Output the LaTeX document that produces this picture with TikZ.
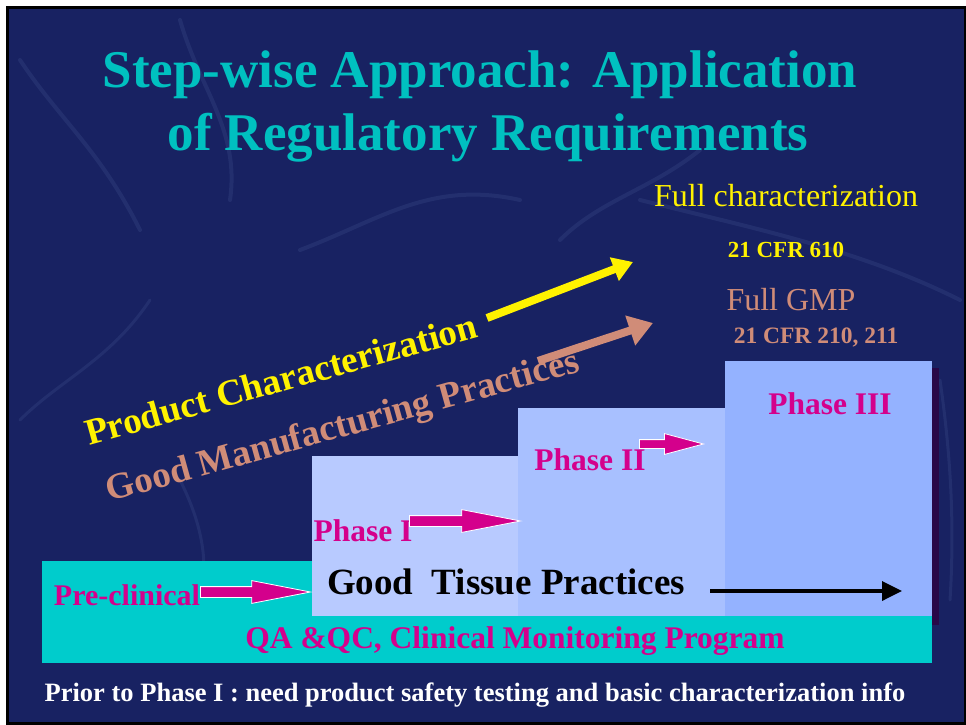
\documentclass[tikz,border=0pt]{standalone}
\usepackage{fontspec}
\setmainfont{Liberation Serif}
\usetikzlibrary{positioning,shapes.arrows,arrows.meta}
\definecolor{navy}{RGB}{24,34,98}
\definecolor{streak}{RGB}{80,100,160}
\definecolor{titleteal}{RGB}{0,192,192}
\definecolor{tan}{RGB}{208,140,120}
\definecolor{magent}{RGB}{212,0,140}
\definecolor{cyanbox}{RGB}{0,204,204}
\definecolor{phaseone}{RGB}{184,202,255}
\definecolor{phasetwo}{RGB}{168,192,255}
\definecolor{phasethree}{RGB}{148,178,255}
\definecolor{shade}{RGB}{40,8,72}
\begin{document}
\begin{tikzpicture}[x=1pt,y=-1pt,
    title/.style={text=titleteal, font=\bfseries\fontsize{53}{60}\selectfont},
    box/.style={anchor=north west, inner sep=0pt, draw=none},
    lbl/.style={text=magent, inner sep=0pt, font=\bfseries\fontsize{31.5}{36}\selectfont},
    blockarrow/.style={single arrow, fill=magent, draw=white, line width=0.8pt, anchor=tail,
      inner xsep=0pt, inner ysep=5pt, single arrow head extend=6pt, single arrow tip angle=22},
    thick arrow/.style={line width=8pt},
    marble/.style={streak, opacity=0.2, line width=4pt, line cap=round}]
    \useasboundingbox (0,0) rectangle (966,725);
    \fill[black] (6,6) rectangle (966,725);
    \fill[navy] (9,9) rectangle (964,722);
    \draw[marble] (20,60) .. controls (60,120) and (100,150) .. (140,230);
    \draw[marble] (180,20) .. controls (200,90) and (240,130) .. (230,200);
    \draw[marble] (300,250) .. controls (380,220) and (430,180) .. (520,200);
    \draw[marble] (560,240) .. controls (600,200) and (650,190) .. (700,150);
    \draw[marble] (640,200) .. controls (760,230) and (860,250) .. (960,300);
    \draw[marble, line width=3pt] (20,420) .. controls (60,380) and (110,360) .. (150,300);
    \draw[marble, line width=3pt] (180,480) .. controls (200,520) and (210,560) .. (200,600);
    \draw[marble, line width=3pt] (940,380) .. controls (950,450) and (955,520) .. (950,600);

    \node (t1) [title] at (480,75) {Step-wise Approach: Application};
    \node (t2) [title] at (488,138) {of Regulatory Requirements};

    \node (full) [text=yellow, font=\fontsize{32}{36}\selectfont] at (786,196) {Full characterization};
    \node (cfr1) [text=yellow, font=\bfseries\fontsize{23}{26}\selectfont] at (786,250) {21 CFR 610};
    \node (gmp) [text=tan, font=\fontsize{32}{36}\selectfont] at (791,300) {Full GMP};
    \node (cfr2) [text=tan, font=\bfseries\fontsize{23.5}{26}\selectfont] at (816,338) {21 CFR 210, 211};

    \node (shadow) [box, fill=shade, minimum width=7pt, minimum height=257pt] at (932,368) {};
    \node (qa) [box, fill=cyanbox, minimum width=890pt, minimum height=47pt] at (42,616) {};
    \node (pre) [box, fill=cyanbox, minimum width=270pt, minimum height=56pt] at (42,561) {};
    \node (p1) [box, fill=phaseone, minimum width=206pt, minimum height=160pt] at (312,456) {};
    \node (p2) [box, fill=phasetwo, minimum width=207pt, minimum height=208pt] at (518,408) {};
    \node (p3) [box, fill=phasethree, minimum width=207pt, minimum height=255pt] at (725,361) {};

    \node (pc) [text=yellow, rotate=15.5, inner sep=0pt, font=\bfseries\fontsize{37}{40}\selectfont] at (281,379) {Product Characterization};
    \node (gm) [text=tan, rotate=15.5, inner sep=0pt, font=\bfseries\fontsize{37}{40}\selectfont] at (343,428) {Good Manufacturing Practices};

    \coordinate (ya) at (487,318);
    \coordinate (yb) at (633,262);
    \coordinate (ta) at (538,361);
    \coordinate (tb) at (653,323);
    \draw[thick arrow, yellow, -{Triangle[length=20pt,width=24pt]}] (ya) -- (yb);
    \draw[thick arrow, tan, -{Triangle[length=24pt,width=30pt]}] (ta) -- (tb);

    \node (lpre) [lbl, font=\bfseries\fontsize{30}{34}\selectfont] at (127,595) {Pre-clinical};
    \node (l1) [lbl] at (363,531) {Phase I};
    \node (l2) [lbl] at (590,460) {Phase II};
    \node (l3) [lbl] at (830,404) {Phase III};

    \node (a0) [blockarrow, minimum height=110pt] at (200,592) {};
    \node (a1) [blockarrow, minimum height=111pt] at (409,521) {};
    \node (a2) [blockarrow, minimum height=64pt, inner ysep=4pt, single arrow tip angle=30] at (639,444) {};

    \node (gtp) [inner sep=0pt, font=\bfseries\fontsize{37}{42}\selectfont] at (506,582) {Good\ \ Tissue Practices};
    \coordinate (ga) at (710,591);
    \coordinate (gb) at (902,591);
    \draw[line width=3.5pt, -{Triangle[length=20pt,width=19pt]}] (ga) -- (gb);

    \node (lqa) [lbl] at (515,641) {QA \&QC, Clinical Monitoring Program};

    \node (foot) [text=white, font=\bfseries\fontsize{26.5}{30}\selectfont] at (475,695) {Prior to Phase I : need product safety testing and basic characterization info};
\end{tikzpicture}
\end{document}
